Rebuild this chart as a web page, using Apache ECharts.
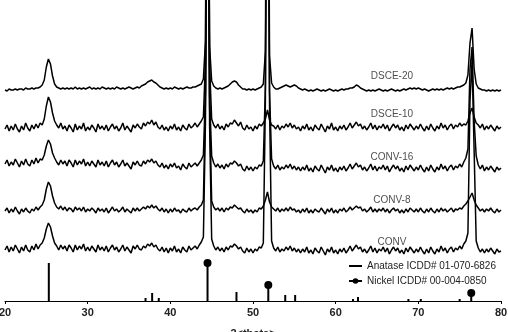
<!DOCTYPE html>
<html><head><meta charset="utf-8">
<script src="https://cdn.jsdelivr.net/npm/echarts@6/dist/echarts.min.js"></script>
<style>html,body{margin:0;padding:0;background:#fff}#c{width:508px;height:332px}</style>
</head><body><div id="c"></div>
<script>
// sampling of every pattern: 20 to 80 deg, step 0.25 deg
const xStart = 20, xStep = 0.25;
const xTicks = [20, 30, 40, 50, 60, 70, 80];

const dsce20 = [
211,210,212,211, 211,212,211,212, 212,211,213,212, 212,213,212,213, 213,214,216,221,
234,242,237,225, 217,214,213,212, 213,212,213,212, 213,212,214,212, 213,212,213,212,
213,214,212,213, 212,213,212,214, 213,212,213,212, 213,212,214,213, 212,213,212,213,
214,213,212,213, 214,213,215,216, 217,219,220,221, 219,218,216,214, 213,212,213,212,
213,212,214,213, 212,213,212,213, 214,213,213,214, 214,215,216,217, 222,260,700,255,
220,215,213,212, 213,212,213,214, 215,217,219,220, 219,216,214,212, 212,211,212,211,
212,211,212,213, 214,217,250,700, 245,218,214,212, 212,213,214,215, 216,215,214,215,
216,215,213,212, 211,212,211,210, 211,210,211,212, 211,210,211,210, 211,212,211,210,
211,210,211,212, 211,212,212,213, 213,214,216,215, 213,212,211,210, 211,210,211,210,
211,212,211,210, 211,210,211,212, 211,210,211,210, 211,212,211,212, 213,212,213,212,
213,212,211,212, 211,210,211,212, 211,212,211,212, 211,212,213,212, 213,212,213,214,
214,215,216,218, 226,258,273,232, 217,213,212,211, 211,210,211,210, 211,210,211,210,
211];

const dsce10 = [
172,176,170,175, 171,177,172,169, 175,171,178,173, 170,176,172,177, 173,178,176,182,
195,204,199,188, 180,176,173,178, 172,175,170,176, 173,169,177,171, 175,172,178,170,
174,171,176,173, 169,177,172,175, 171,176,170,174, 177,172,175,170, 173,178,171,175,
172,169,176,173, 177,174,172,178, 175,179,177,181, 176,179,174,172, 176,171,174,170,
175,172,177,171, 174,170,176,173, 171,177,173,175, 178,174,177,180, 184,240,650,235,
182,176,173,177, 172,175,171,177, 174,178,177,181, 178,175,179,173, 171,176,172,174,
170,175,172,177, 175,178,182,191, 181,176,175,172, 176,171,175,173, 177,174,178,173,
176,172,174,170, 175,172,177,171, 174,170,176,173, 171,177,173,169, 175,172,178,171,
174,170,175,172, 176,171,174,178, 173,176,179,175, 177,172,175,171, 174,178,172,176,
171,175,173,177, 172,176,170,174, 177,173,176,171, 174,170,176,172, 177,174,171,175,
172,177,173,170, 175,171,177,173, 170,175,172,178, 173,176,171,175, 177,172,176,174,
178,175,177,176, 180,188,193,184, 178,176,173,177, 171,175,172,176, 173,170,175,172,
174];

const conv16 = [
137,141,135,139, 136,142,138,134, 140,136,142,137, 135,141,137,143, 138,142,141,146,
155,161,157,148, 143,139,136,141, 137,140,135,141, 138,134,141,136, 140,137,142,135,
139,135,140,137, 134,141,136,139, 135,140,134,138, 141,136,139,134, 137,141,135,138,
135,132,139,136, 140,136,135,140, 137,141,139,142, 138,140,136,134, 138,133,136,132,
137,134,138,133, 135,131,137,134, 132,138,134,136, 138,135,138,141, 146,210,640,205,
145,138,134,137, 133,136,132,137, 134,138,137,140, 138,135,137,132, 130,135,131,134,
130,134,132,136, 135,140,215,640, 210,142,135,132, 136,131,134,132, 136,133,137,132,
135,131,134,130, 134,131,136,130, 133,129,135,132, 130,136,132,128, 134,131,136,130,
133,129,134,131, 135,130,133,137, 132,135,138,134, 136,131,134,130, 133,137,131,135,
130,134,132,136, 131,135,129,133, 136,132,135,130, 133,129,135,131, 136,133,130,134,
131,136,132,129, 134,130,136,132, 129,134,131,137, 132,135,130,134, 136,131,135,133,
137,134,139,143, 152,232,254,180, 145,136,132,136, 130,134,131,135, 132,129,134,131,
133];

const conv8 = [
90,93,88,92, 89,94,90,87, 92,89,93,90, 88,92,90,94, 91,94,96,101,
112,119,115,105, 98,94,92,95, 91,94,90,93, 92,89,94,91, 93,90,94,89,
92,90,93,91, 88,93,90,92, 89,93,88,91, 94,90,92,89, 91,94,89,92,
90,88,93,90, 93,90,92,94, 92,95,93,96, 93,95,92,90, 93,89,92,88,
92,89,93,90, 91,88,92,90, 89,93,90,92, 93,91,94,96, 101,200,650,195,
100,94,91,93, 90,93,89,93, 91,94,93,96, 94,92,93,90, 88,92,89,91,
88,91,89,93, 92,95,101,109, 99,94,92,90, 93,89,92,90, 93,90,94,91,
92,89,91,88, 92,89,93,88, 91,88,92,90, 89,93,90,87, 92,89,93,88,
91,88,92,90, 93,89,91,94, 91,93,95,93, 94,90,92,89, 91,94,89,92,
89,92,90,93, 89,92,88,91, 93,90,92,88, 91,88,92,89, 93,91,89,92,
89,93,90,88, 92,89,93,90, 88,92,89,93, 90,92,89,91, 93,89,92,91,
93,92,95,97, 100,104,108,101, 96,93,90,92, 89,92,90,93, 90,88,92,89,
91];

const conv = [
51,55,49,54, 50,56,52,48, 54,50,56,51, 49,55,51,57, 52,56,58,63,
72,78,74,65, 58,55,51,56, 52,55,50,56, 53,49,56,51, 55,52,57,50,
54,50,55,52, 49,56,51,54, 50,55,49,53, 56,51,54,49, 52,56,50,54,
51,48,55,52, 56,52,51,55, 53,57,55,58, 54,56,52,50, 54,49,53,48,
53,50,55,49, 52,48,54,51, 49,55,51,53, 55,52,56,59, 64,180,640,175,
62,55,51,54, 50,53,49,54, 51,55,54,57, 55,52,54,50, 48,53,49,52,
48,52,50,54, 53,58,200,640, 195,60,53,50, 54,49,52,50, 54,51,55,50,
53,49,52,48, 52,49,54,48, 51,47,53,50, 48,54,50,46, 52,49,54,48,
51,47,52,49, 53,48,51,55, 50,53,56,52, 54,49,52,48, 51,55,49,53,
48,52,50,54, 49,53,47,51, 54,50,53,48, 51,47,53,49, 54,51,48,52,
49,54,50,47, 52,48,54,50, 47,52,49,55, 50,53,48,52, 54,49,53,51,
55,52,57,60, 68,200,240,150, 60,53,49,52, 48,52,49,53, 50,47,52,49,
50];

const traceNames = ['DSCE-20', 'DSCE-10', 'CONV-16', 'CONV-8', 'CONV'];
const traceLabelDeg = [66.8, 66.8, 66.8, 66.8, 66.8];
const traceLabelLevel = [225, 187, 144, 101, 59];

const anataseName = 'Anatase ICDD# 01-070-6826';
const anataseDeg    = [25.3, 37.0, 37.8, 38.6, 48.0, 53.9, 55.1, 62.1, 62.7, 68.8, 70.3, 75.0];
const anataseHeight = [38,   3,    8,    3,    9,    6,    6,    2,    4,    2,    2,    2];

const nickelName = 'Nickel ICDD# 00-004-0850';
const nickelDeg    = [44.5, 51.85, 76.4];
const nickelHeight = [38,   16,    8];

const FONT = 'Liberation Sans, Arial, sans-serif';

function toPairs(arr) { return arr.map((v, i) => [xStart + i * xStep, v]); }
function sticks(deg, h) {
  const out = [];
  deg.forEach((d, i) => { out.push([d, 0]); out.push([d, h[i]]); out.push('-'); });
  return out;
}

const traces = [dsce20, dsce10, conv16, conv8, conv];
const series = traces.map((t, k) => ({
  name: traceNames[k], type: 'line', data: toPairs(t), symbol: 'none',
  lineStyle: { color: '#000', width: 1.5 }, clip: true, silent: true, z: 2
}));

series.push({
  name: anataseName, type: 'line', data: sticks(anataseDeg, anataseHeight),
  symbol: 'none', connectNulls: false,
  lineStyle: { color: '#000', width: 2 }, itemStyle: { color: '#000' }
});
series.push({
  name: nickelName, type: 'line', data: sticks(nickelDeg, nickelHeight),
  symbol: 'circle', connectNulls: false, showAllSymbol: true,
  symbolSize: (v) => (v[1] > 0 ? 8 : 0),
  lineStyle: { color: '#000', width: 2 }, itemStyle: { color: '#000' }
});
series.push({
  name: 'labels', type: 'scatter', symbolSize: 1, itemStyle: { color: 'rgba(0,0,0,0)' },
  data: traceNames.map((n, k) => [traceLabelDeg[k], traceLabelLevel[k], n]),
  label: { show: true, position: 'inside', formatter: (p) => p.value[2],
           color: '#222', fontSize: 10, fontFamily: FONT }
});

const chart = echarts.init(document.getElementById('c'), null, { renderer: 'canvas' });
chart.setOption({
  animation: false,
  backgroundColor: '#fff',
  grid: { left: 5, right: 7, top: 0, bottom: 31, containLabel: false, outerBoundsMode: 'none' },
  legend: {
    data: [
      { name: anataseName, itemStyle: { opacity: 0 } },
      { name: nickelName }
    ],
    orient: 'vertical', left: 343, top: 256,
    itemWidth: 13, itemHeight: 7, itemGap: 5, selectedMode: false,
    textStyle: { fontSize: 10, color: '#222', fontFamily: FONT }
  },
  xAxis: {
    type: 'value', min: xTicks[0], max: xTicks[xTicks.length - 1], interval: 10,
    name: '2<theta>', nameLocation: 'middle', nameGap: 27,
    nameTextStyle: { fontSize: 11, fontWeight: 'bold', color: '#222', fontFamily: FONT },
    axisLine: { lineStyle: { color: '#000', width: 1.2 } },
    axisTick: { show: true, length: 3, lineStyle: { color: '#000' } },
    axisLabel: { fontSize: 11, fontWeight: 'bold', color: '#222', margin: 6, fontFamily: FONT },
    splitLine: { show: false }
  },
  yAxis: { type: 'value', min: 0, max: 301, show: false },
  series: series
});
</script></body></html>
